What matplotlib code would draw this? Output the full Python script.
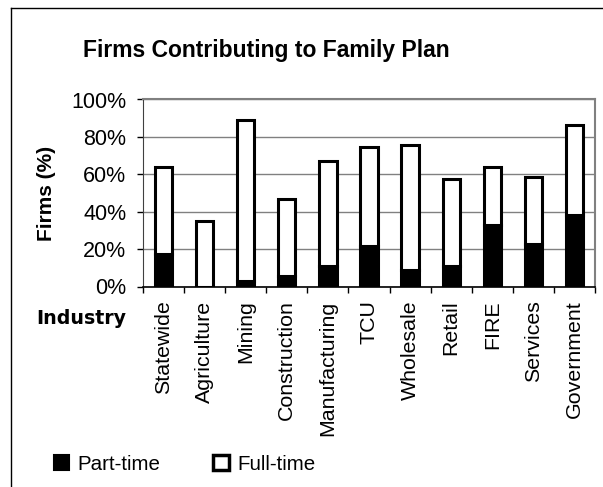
import matplotlib
matplotlib.use("Agg")
import matplotlib.pyplot as plt
import numpy as np
from matplotlib.patches import Patch
from matplotlib.lines import Line2D

categories = ["Statewide", "Agriculture", "Mining", "Construction", "Manufacturing",
              "TCU", "Wholesale", "Retail", "FIRE", "Services", "Government"]
part_time = [17.2, 0.0, 3.2, 5.4, 10.8, 21.5, 8.7, 10.8, 32.7, 22.9, 38.1]
full_time = [46.7, 35.0, 86.1, 41.2, 56.1, 53.0, 67.1, 46.8, 31.2, 35.7, 48.3]
yticks = [0, 20, 40, 60, 80, 100]
ytick_labels = ["0%", "20%", "40%", "60%", "80%", "100%"]

plt.rcParams['font.family'] = ['Liberation Sans', 'DejaVu Sans']

fig = plt.figure(figsize=(6.03, 4.87), dpi=100)
W, H = 603, 487
ax = fig.add_axes([143 / W, 1 - 286.5 / H, 452 / W, 187 / H])

x = np.arange(len(categories))
bw = 0.42
ax.bar(x, part_time, width=bw, color='black', edgecolor='black', linewidth=2.2, zorder=3,
       label='Part-time')
ax.bar(x, full_time, width=bw, bottom=part_time, color='white', edgecolor='black',
       linewidth=2.2, zorder=3, label='Full-time')

ax.set_xlim(-0.5, len(categories) - 0.5)
ax.set_ylim(0, 100)
ax.set_yticks(yticks)
ax.set_yticklabels(ytick_labels, fontsize=15.5)
ax.yaxis.grid(True, color='#808080', linewidth=1.0, zorder=0)
ax.set_axisbelow(True)

ax.set_xticks(np.arange(len(categories) + 1) - 0.5)
ax.set_xticklabels([])
ax.set_xticks(x, minor=True)
ax.set_xticklabels(categories, minor=True, rotation=90, fontsize=15.4, va='top', ha='center')
ax.tick_params(axis='x', which='major', direction='out', length=4, width=1, color='black')
ax.tick_params(axis='x', which='minor', length=0, pad=10)
ax.tick_params(axis='y', direction='out', length=4, width=1, pad=8, color='black')

for s in ['top', 'right']:
    ax.spines[s].set_color('#808080')
    ax.spines[s].set_linewidth(1.5)
ax.spines['left'].set_color('#404040')
ax.spines['bottom'].set_color('black')
ax.spines['bottom'].set_linewidth(1.2)

ax.set_ylabel('Firms (%)', fontsize=15, fontweight='bold')
ax.yaxis.set_label_coords(-0.193, 0.5)
ax.set_xlabel('Industry', fontsize=13.7, fontweight='bold', family='DejaVu Sans',
              ha='center', va='top')
ax.xaxis.set_label_coords(-0.137, -0.12)

ax.set_title('Firms Contributing to Family Plan', fontsize=16.5, fontweight='bold',
             x=0.273, y=1.227, va='baseline', pad=0)

handles = [Patch(facecolor='black', edgecolor='black', linewidth=1.5),
           Patch(facecolor='white', edgecolor='black', linewidth=2.5)]
fig.legend(handles, ['Part-time', 'Full-time'], loc='center left',
           bbox_to_anchor=(35 / W, 1 - 464 / H), ncol=2, frameon=False, fontsize=14.8,
           handlelength=0.75, handleheight=0.75, handletextpad=0.4, columnspacing=2.6)

# outer frame (left and top edges)
fig.add_artist(Line2D([11 / W, 11 / W], [0, 1 - 7.5 / H], color='black', linewidth=1,
                      transform=fig.transFigure))
fig.add_artist(Line2D([11 / W, 1], [1 - 7.5 / H, 1 - 7.5 / H], color='black', linewidth=1,
                      transform=fig.transFigure))

fig.savefig('out.png', dpi=100)
